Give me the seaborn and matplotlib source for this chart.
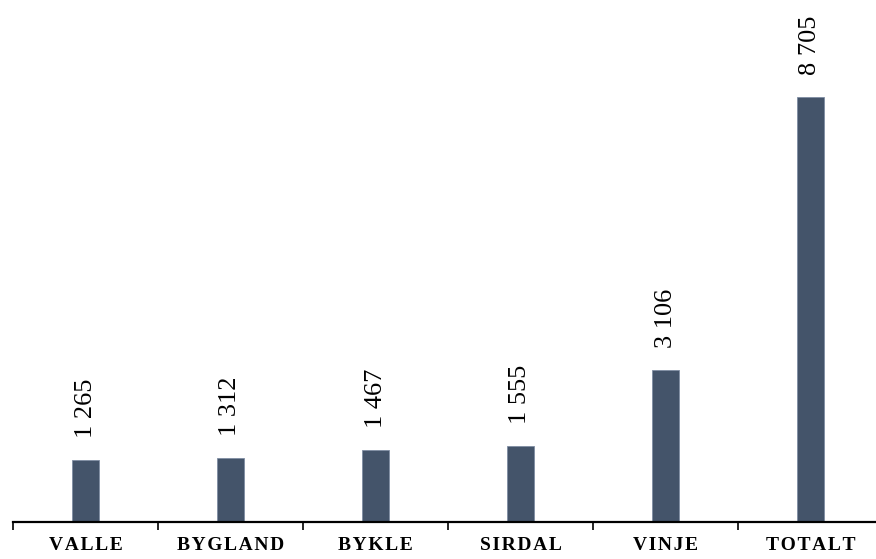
import matplotlib
matplotlib.use("Agg")
import matplotlib.pyplot as plt
import seaborn as sns
import pandas as pd
import numpy as np

# Kommuner og verdier
categories = ["VALLE", "BYGLAND", "BYKLE", "SIRDAL", "VINJE", "TOTALT"]
values = [1265, 1312, 1467, 1555, 3106, 8705]

df = pd.DataFrame({"kommune": categories, "verdi": values})

sns.set_theme(style="white")
plt.rcParams["font.family"] = ["Liberation Serif", "DejaVu Serif"]

fig = plt.figure(figsize=(8.76, 5.59), dpi=100)
ax = fig.add_axes([13 / 876, 37 / 559, 870 / 876, 1 - 37 / 559])

sns.barplot(data=df, x="kommune", y="verdi", color="#44546A", width=0.19,
            saturation=1, edgecolor="#7F8DA3", linewidth=0.6, ax=ax)

ax.set_ylim(0, 10690)
ax.set_xlim(-0.5, len(categories) - 0.5)

# Verdietiketter med mellomrom som tusenskille
labels = [f"{v:,}".replace(",", " ") for v in values]
ax.bar_label(ax.containers[0], labels=labels, rotation=90, padding=16,
             fontsize=19, color="black")

# Aksestil
for side in ["top", "right", "left"]:
    ax.spines[side].set_visible(False)
ax.spines["bottom"].set_color("black")
ax.spines["bottom"].set_linewidth(1.6)
ax.set_yticks([])
ax.set_xlabel("")
ax.set_ylabel("")

spaced = ["\u200a".join(c) for c in categories]
ax.set_xticks(range(len(categories)))
ax.set_xticklabels(spaced, fontsize=14, fontweight="bold", color="black")
ax.tick_params(axis="x", which="major", length=0, pad=11)
ax.set_xticks(np.arange(-0.5, len(categories), 1.0), minor=True)
ax.tick_params(axis="x", which="minor", length=6, width=1.2, color="black",
               direction="out", bottom=True)

fig.savefig("out.png", dpi=100)
